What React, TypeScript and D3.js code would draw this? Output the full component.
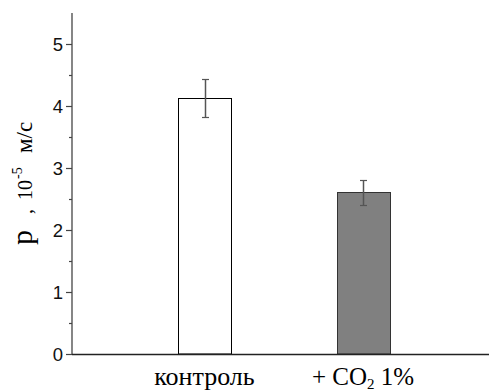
import React from "react";
import * as d3 from "d3";

const categories = ["контроль", "+ CO2 1%"];
const values = [4.13, 2.61];
const errors = [0.3, 0.2];
const fills = ["#ffffff", "#808080"];
const yTicks = [0, 1, 2, 3, 4, 5];
const yMinorTicks = [0.5, 1.5, 2.5, 3.5, 4.5];

const W = 489;
const H = 391;

export default function App() {
  const y = d3.scaleLinear().domain([0, 5.5]).range([354, 13]);
  const x = d3.scalePoint().domain(categories).range([204.5, 363]);
  const bw = 53;
  const axisX = 72;
  const axisColor = "#444";
  const serif = { fontFamily: "'Liberation Serif'" };
  const sans = { fontFamily: "'Liberation Sans'" };
  return (
    <svg width={W} height={H} style={{ position: "absolute", left: 0, top: 0, background: "#fff" }}>
      {categories.map((c, i) => {
        const cx = x(c) as number;
        const top = y(values[i]);
        const eTop = Math.round(y(values[i] + errors[i])) + 0.5;
        const eBot = Math.round(y(values[i] - errors[i])) + 0.5;
        return (
          <g key={c}>
            <rect x={Math.round(cx - bw / 2) + 0.5} y={Math.round(top) + 0.5} width={bw} height={y(0) - Math.round(top) - 0.5}
              fill={fills[i]} stroke={i === 0 ? "#000" : "#333"} strokeWidth={1} />
            <line x1={Math.round(cx) + 0.5} x2={Math.round(cx) + 0.5} y1={eTop} y2={eBot} stroke="#555" strokeWidth={1.5} />
            <line x1={Math.round(cx) - 3} x2={Math.round(cx) + 4} y1={eTop} y2={eTop} stroke="#555" strokeWidth={1.2} />
            <line x1={Math.round(cx) - 3} x2={Math.round(cx) + 4} y1={eBot} y2={eBot} stroke="#555" strokeWidth={1.2} />
          </g>
        );
      })}
      <line x1={axisX} x2={axisX} y1={y(5.5)} y2={y(0) + 0.5} stroke={axisColor} strokeWidth={1.3} />
      {yTicks.map((t) => (
        <g key={t}>
          <line x1={axisX - 6} x2={axisX} y1={Math.round(y(t)) + 0.5} y2={Math.round(y(t)) + 0.5} stroke={axisColor} strokeWidth={1.2} />
          <text x={axisX - 9} y={y(t)} dy="0.36em" textAnchor="end" style={sans} fontSize={18.5} fill="#111">{t}</text>
        </g>
      ))}
      {yMinorTicks.map((t) => (
        <line key={t} x1={axisX - 3} x2={axisX} y1={Math.round(y(t)) + 0.5} y2={Math.round(y(t)) + 0.5} stroke={axisColor} strokeWidth={1.2} />
      ))}
      <line x1={axisX} x2={W} y1={Math.round(y(0)) + 0.5} y2={Math.round(y(0)) + 0.5} stroke="#222" strokeWidth={1.4} />
      <text x={x(categories[0]) as number} y={385} textAnchor="middle" style={serif} fontSize={26} fill="#000">{categories[0]}</text>
      <text x={x(categories[1]) as number} y={385} textAnchor="middle" style={serif} fontSize={25} fill="#000">
        + CO<tspan fontSize={15} dy={4}>2</tspan><tspan dy={-4}> 1%</tspan>
      </text>
      <g transform="translate(32,245) rotate(-90)" style={serif} fill="#000">
        <text x={0} y={0} fontSize={30}>p</text>
        <text x={31} y={0} fontSize={20}>,</text>
        <text x={45} y={0} fontSize={20}>10</text>
        <text x={66} y={-10} fontSize={14}>-5</text>
        <text x={92} y={0} fontSize={23}>м/с</text>
      </g>
    </svg>
  );
}
